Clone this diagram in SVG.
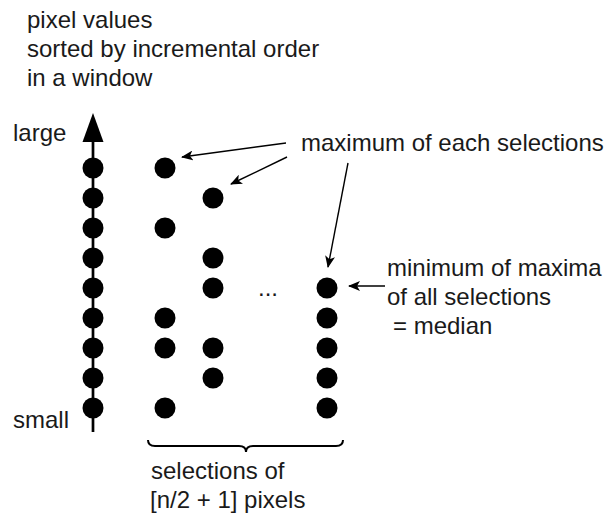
<svg xmlns="http://www.w3.org/2000/svg" width="613" height="515" viewBox="0 0 613 515">
<style>
text{font-family:"Liberation Sans",Arial,sans-serif;font-size:24px;fill:#1a1a1a}
.dot{fill:#000}
.conn{stroke:#000;stroke-width:1.4;fill:none;marker-end:url(#ah)}
</style>
<defs>
<marker id="ah" viewBox="0 0 12 10" refX="11" refY="5" markerWidth="12" markerHeight="10" markerUnits="userSpaceOnUse" orient="auto">
<path d="M0,0 L12,5 L0,10 L3,5 z" fill="#000"/>
</marker>
</defs>
<rect width="613" height="515" fill="#fff"/>
<g id="caption-top">
<text x="27" y="28">pixel values</text>
<text x="27" y="57">sorted by incremental order</text>
<text x="27" y="86">in a window</text>
</g>
<g id="axis">
<line x1="93" y1="140" x2="93" y2="432" stroke="#000" stroke-width="2.7"/>
<polygon points="93,113 82.5,142 103.5,142" fill="#000"/>
<text x="13" y="141">large</text>
<text x="13" y="428">small</text>
<circle class="dot" cx="93" cy="168" r="10.5"/>
<circle class="dot" cx="93" cy="198" r="10.5"/>
<circle class="dot" cx="93" cy="228" r="10.5"/>
<circle class="dot" cx="93" cy="258" r="10.5"/>
<circle class="dot" cx="93" cy="288" r="10.5"/>
<circle class="dot" cx="93" cy="318" r="10.5"/>
<circle class="dot" cx="93" cy="348" r="10.5"/>
<circle class="dot" cx="93" cy="378" r="10.5"/>
<circle class="dot" cx="93" cy="408" r="10.5"/>
</g>
<g id="selection1">
<circle class="dot" cx="165" cy="168" r="10.5"/>
<circle class="dot" cx="165" cy="228" r="10.5"/>
<circle class="dot" cx="165" cy="318" r="10.5"/>
<circle class="dot" cx="165" cy="348" r="10.5"/>
<circle class="dot" cx="165" cy="408" r="10.5"/>
</g>
<g id="selection2">
<circle class="dot" cx="213" cy="198" r="10.5"/>
<circle class="dot" cx="213" cy="258" r="10.5"/>
<circle class="dot" cx="213" cy="288" r="10.5"/>
<circle class="dot" cx="213" cy="348" r="10.5"/>
<circle class="dot" cx="213" cy="378" r="10.5"/>
</g>
<g id="ellipsis">
<text x="258" y="296">...</text>
</g>
<g id="selection3">
<circle class="dot" cx="327" cy="288" r="10.5"/>
<circle class="dot" cx="327" cy="318" r="10.5"/>
<circle class="dot" cx="327" cy="348" r="10.5"/>
<circle class="dot" cx="327" cy="378" r="10.5"/>
<circle class="dot" cx="327" cy="408" r="10.5"/>
</g>
<g id="label-maximum">
<text x="301" y="151">maximum of each selections</text>
</g>
<g id="label-minimum">
<text x="387" y="276">minimum of maxima</text>
<text x="387" y="305">of all selections</text>
<text x="393" y="334">= median</text>
</g>
<g id="brace">
<path d="M148,440 Q148,446 155,446 L239,446 Q246,446 246,452 Q246,446 253,446 L336,446 Q343,446 343,440" stroke="#000" stroke-width="2" fill="none"/>
<text x="151" y="479">selections of</text>
<text x="150" y="508">[n/2 + 1] pixels</text>
</g>
<g id="connectors">
<line class="conn" x1="286" y1="143" x2="182" y2="157"/>
<line class="conn" x1="287" y1="157" x2="231" y2="184"/>
<line class="conn" x1="348" y1="163" x2="328" y2="267"/>
<line class="conn" x1="385" y1="286" x2="349" y2="286"/>
</g>
</svg>
